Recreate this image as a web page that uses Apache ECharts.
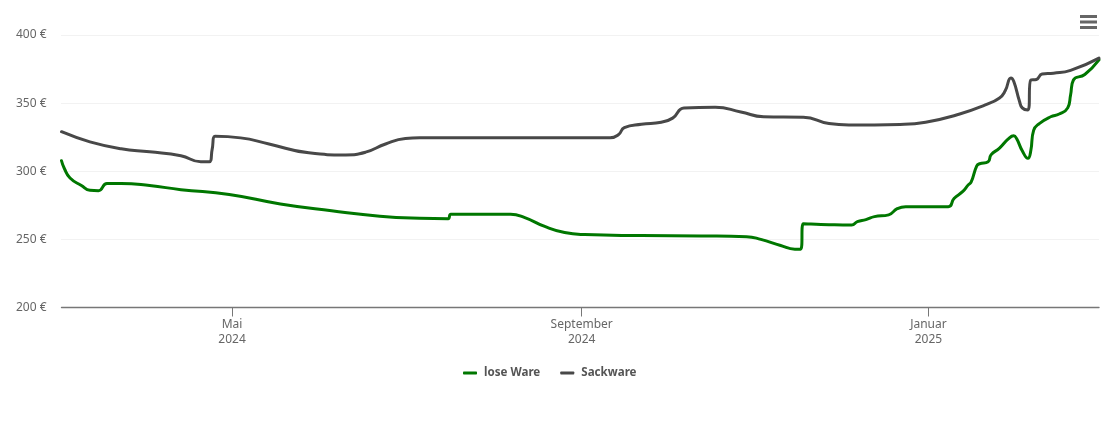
<!DOCTYPE html>
<html>
<head>
<meta charset="utf-8">
<script src="https://cdn.jsdelivr.net/npm/echarts@6/dist/echarts.min.js"></script>
<style>
  html, body { margin: 0; padding: 0; background: #fff; }
  #container { width: 1110px; height: 422px; }
</style>
</head>
<body>
<div id="container"></div>
<script>
const looseDates = ["2024-03-02","2024-03-03","2024-03-05","2024-03-09","2024-03-12","2024-03-15","2024-03-18","2024-03-23","2024-04-02","2024-04-13","2024-04-30","2024-05-18","2024-06-05","2024-06-22","2024-07-06","2024-07-16","2024-07-17","2024-08-07","2024-08-12","2024-08-19","2024-08-26","2024-09-02","2024-09-22","2024-10-13","2024-10-29","2024-11-03","2024-11-10","2024-11-15","2024-11-17","2024-11-18","2024-11-27","2024-12-05","2024-12-07","2024-12-10","2024-12-13","2024-12-18","2024-12-21","2024-12-24","2025-01-08","2025-01-10","2025-01-13","2025-01-15","2025-01-16","2025-01-18","2025-01-19","2025-01-22","2025-01-23","2025-01-26","2025-01-29","2025-01-31","2025-02-01","2025-02-03","2025-02-05","2025-02-06","2025-02-07","2025-02-09","2025-02-13","2025-02-16","2025-02-19","2025-02-20","2025-02-21","2025-02-25","2025-03-02"];
const looseValues = [307.7,302,295,289.5,286,285.7,291,291,289.5,286.5,283,276,271,267,265.5,265.2,268.5,268.5,266,259.5,255,253.5,252.8,252.5,252,250,245.5,242.8,242.8,261.5,260.8,260.5,263,264.5,266.7,268,272.5,274,274,280,285,290,292,304,305.5,307,312,317,323.5,326,324,315,309.5,315,330,335,340,342,346.5,356,367,371,381.7];
const sackDates = ["2024-03-02","2024-03-12","2024-03-23","2024-04-02","2024-04-13","2024-04-20","2024-04-23","2024-04-24","2024-04-25","2024-05-04","2024-05-14","2024-05-28","2024-06-10","2024-06-17","2024-06-24","2024-07-01","2024-07-06","2024-09-11","2024-09-14","2024-09-16","2024-09-22","2024-09-29","2024-10-03","2024-10-07","2024-10-18","2024-10-27","2024-11-04","2024-11-18","2024-11-27","2024-12-04","2024-12-22","2024-12-31","2025-01-12","2025-01-21","2025-01-26","2025-01-28","2025-01-30","2025-01-31","2025-02-02","2025-02-03","2025-02-05","2025-02-06","2025-02-08","2025-02-10","2025-02-14","2025-02-20","2025-03-02"];
const sackValues = [329,321.6,316.5,314.3,311.4,307,307,316,325.6,324.5,320,313.5,312,314,320,324,324.5,324.5,327,332,334.5,336,339,346.5,347,343.5,340,339.7,335,334,334.4,336,342,348.7,353.8,359,368.5,366,351.6,346.5,345,367,367.4,371.4,372,374,383];
const seriesNames = ["lose Ware", "Sackware"];
const tickDates = ["2024-05-01", "2024-09-01", "2025-01-01"];
const tickLabels = ["Mai\n2024", "September\n2024", "Januar\n2025"];
const yTicks = { min: 200, max: 400, step: 50 };
const axisStart = "2024-03-02";
const axisEnd = "2025-03-02";

// time axis chokes on customValues, so the x axis is a value axis of timestamps
const toTime = (d) => Date.parse(d + "T00:00:00Z");
const toPairs = (dates, values) => dates.map((d, i) => [toTime(d), values[i]]);
const tickTimes = tickDates.map(toTime);

let dom = document.getElementById("container");
let myChart = echarts.init(dom, null, { renderer: "canvas" });

const fontFamily = '"Noto Sans", sans-serif';
const makeSeries = (name, data, color) => ({
  name: name,
  type: "line",
  data: data,
  smooth: 0.5,
  showSymbol: false,
  animation: false,
  lineStyle: { color: color, width: 3, cap: "round", join: "round" },
  itemStyle: { color: color },
});

let option = {
  animation: false,
  grid: { left: 61.5, right: 11, top: 35, height: 272.5, containLabel: false },
  xAxis: {
    type: "value",
    min: toTime(axisStart),
    max: toTime(axisEnd),
    axisLine: { lineStyle: { color: "#777", width: 1.4 } },
    axisTick: { show: true, length: 9, lineStyle: { color: "#777", width: 1 }, customValues: tickTimes },
    splitLine: { show: false },
    axisLabel: {
      customValues: tickTimes,
      color: "#666",
      fontFamily: fontFamily,
      fontSize: 12,
      lineHeight: 15,
      margin: 10,
      formatter: (value) => tickLabels[tickTimes.indexOf(+value)] || "",
    },
  },
  yAxis: {
    type: "value",
    min: yTicks.min,
    max: yTicks.max,
    interval: yTicks.step,
    axisLine: { show: false },
    axisTick: { show: false },
    axisLabel: {
      color: "#666",
      fontFamily: fontFamily,
      fontSize: 12,
      margin: 15,
      formatter: "{value} €",
    },
    splitLine: { lineStyle: { color: "#e4e4e4", type: "dotted", width: 1 } },
  },
  legend: {
    data: seriesNames,
    left: 458,
    top: 362,
    itemWidth: 14,
    itemHeight: 3,
    itemGap: 20,
    icon: "roundRect",
    textStyle: { color: "#555", fontFamily: fontFamily, fontSize: 11.6, fontWeight: "bold", padding: [0, 0, 0, 2] },
    selectedMode: false,
  },
  toolbox: {
    right: -2,
    top: 0,
    itemSize: 17,
    feature: {
      myMenu: {
        show: true,
        title: "Menu",
        icon: "path://M0 0H17V3H0ZM0 5.5H17V8.5H0ZM0 11H17V14H0Z",
        onclick: function () {},
      },
    },
    iconStyle: { color: "#666", borderWidth: 0 },
  },
  series: [
    makeSeries(seriesNames[0], toPairs(looseDates, looseValues), "#007700"),
    makeSeries(seriesNames[1], toPairs(sackDates, sackValues), "#484848"),
  ],
};

if (option && typeof option === "object") {
  myChart.setOption(option);
}

window.addEventListener("resize", myChart.resize);
</script>
</body>
</html>
